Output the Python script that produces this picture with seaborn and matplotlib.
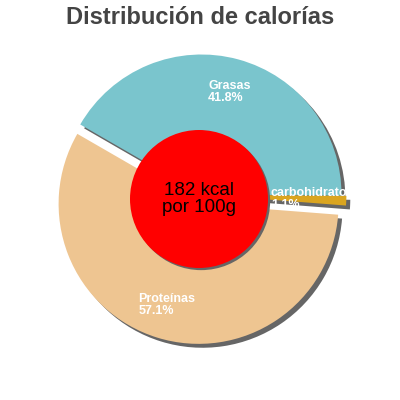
import numpy as np
import matplotlib
matplotlib.use("Agg")
import matplotlib.pyplot as plt
import matplotlib.patches as mpatches
import seaborn as sns

# data
nutrients = ['Grasas', 'carbohidratos', 'Proteínas']
percent = [41.8, 1.1, 57.1]
colors = ['#7AC5CD', '#DAA520', '#EEC591']
explode = [0, 0.035, 0.07]
title = 'Distribución de calorías'
center_text = '182 kcal\npor 100g'

sns.set_style("white")
plt.rcParams['font.family'] = ['Liberation Sans', 'DejaVu Sans']

fig = plt.figure(figsize=(4, 4), dpi=100)
# pie radius in px and pie center in px (from top-left)
R = 140.0
cx, cy = 201.5, 194.5
ax = fig.add_axes([0, 0, 348 / 400, 1])

labels = [f"{n}\n{p}%" for n, p in zip(nutrients, percent)]
wedges, texts = ax.pie(
    percent,
    labels=labels,
    colors=colors,
    startangle=150,
    counterclock=False,
    explode=explode,
    labeldistance=0.76,
    shadow={'ox': 0.02, 'oy': -0.02, 'facecolor': '#666666',
            'edgecolor': 'none', 'alpha': 1},
    wedgeprops={'linewidth': 0},
    textprops={'color': 'white', 'fontsize': 9, 'fontweight': 'bold'},
)
for t in texts:
    t.set_ha('center')
    t.set_va('center')
    t.set_multialignment('left')
    t.set_clip_on(True)
    t.set_zorder(6)
    t.set_linespacing(1.0)

# inner circle (drawn slightly off the pie center, as in the original)
ccx, ccy = (199 - cx) / R, (cy - 199) / R
circle = mpatches.Circle((ccx, ccy), 69 / R, facecolor='#FF0000',
                         edgecolor='none', zorder=3)
ax.add_patch(circle)
ax.add_patch(mpatches.Shadow(circle, 0.011, -0.011, facecolor='#666666',
                             edgecolor='none', alpha=1))
ax.text(ccx, ccy, center_text, ha='center', va='center', fontsize=13.5,
        color='black', zorder=4, linespacing=1.05)

ax.set_aspect('auto')
ax.set_xlim(-cx / R, (348 - cx) / R)
ax.set_ylim(-(400 - cy) / R, cy / R)
ax.axis('off')

fig.text(0.5, 1 - 18 / 400, title, ha='center', va='center',
         fontsize=17, fontweight='bold', color='#444444')

fig.savefig('out.png', dpi=100)
